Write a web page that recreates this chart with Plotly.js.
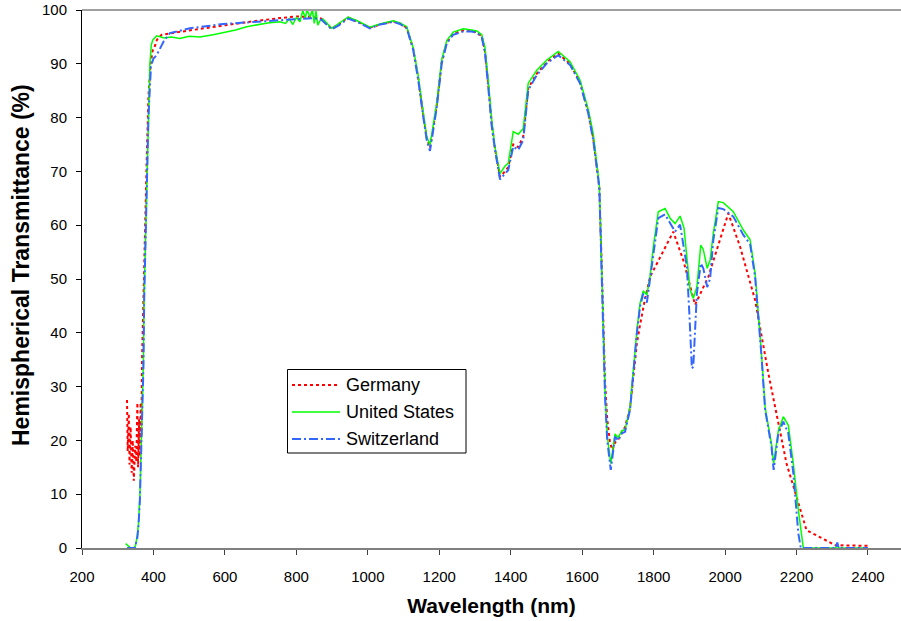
<!DOCTYPE html>
<html>
<head>
<meta charset="utf-8">
<script src="https://cdn.plot.ly/plotly-3.0.1.min.js"></script>
<style>html,body{margin:0;padding:0;background:#fff;}#chart{width:901px;height:621px;}</style>
</head>
<body>
<div id="chart"></div>
<script>
// ---- Data ----
const seriesNames = ["Germany", "United States", "Switzerland"];
const xTickVals = [200, 400, 600, 800, 1000, 1200, 1400, 1600, 1800, 2000, 2200, 2400];
const yTickVals = [0, 10, 20, 30, 40, 50, 60, 70, 80, 90, 100];

const germanyWl = [326,328,331,333,336,339,342,345,349,352,355,357,360,362,364,366,368,372,376,381,386,392,398,404,410,423,500,600,679,754,800,847,870,899,920,945,970,1006,1034,1050,1071,1090,1109,1127,1141,1155,1165,1174,1183,1193,1207,1221,1239,1267,1290,1305,1319,1328,1337,1347,1356,1370,1384,1393,1407,1421,1435,1449,1473,1501,1533,1566,1594,1617,1631,1641,1648,1655,1659,1664,1670,1678,1685,1692,1701,1711,1720,1734,1743,1753,1762,1775,1790,1855,1883,1916,1953,2009,2042,2084,2121,2172,2200,2228,2312,2330,2400];
const germanyT  = [27.5,18,25,15.5,22.5,14,20,12.5,19,16,27,15,24,17,27,21,35,48,62,72,84,90,92.5,93.3,94.5,95.4,96.2,97.2,97.9,98.5,98.8,98.7,98.4,96.5,97.4,98.6,97.9,96.7,97.3,97.6,97.9,97.5,96.7,92.8,87.4,80.6,76.2,74.4,78,82.3,90.4,94.0,95.6,96.2,96.1,95.9,95.1,92.4,86.2,78.8,74.3,69.0,70.0,70.8,75.0,74.5,76.5,85.5,88.2,90.3,91.9,90.0,86.6,81,76.2,71.3,67,52,40,31,24,19.5,18.2,19.6,20.2,21.5,22.5,26,32,38,41.5,46,50.4,58.8,53.5,45.2,50.4,62.2,56,46.1,32.5,15.7,9.5,3.3,0.4,0.5,0.4];

const usWl = [322,328,335,345,350,355,358,362,367,372,374,381,386,390,394,398,409,430,450,474,500,530,567,600,630,661,690,720,754,770,780,790,800,810,818,825,830,838,845,850,855,860,866,875,899,920,945,970,1006,1034,1050,1071,1090,1109,1127,1141,1155,1165,1174,1183,1193,1207,1221,1239,1267,1290,1305,1319,1328,1337,1347,1356,1370,1384,1393,1407,1421,1435,1449,1473,1501,1533,1566,1594,1617,1631,1641,1648,1655,1659,1664,1670,1680,1692,1701,1711,1720,1734,1743,1753,1762,1771,1781,1790,1799,1813,1832,1846,1860,1874,1885,1893,1902,1911,1921,1932,1939,1950,1958,1967,1981,1995,2023,2051,2070,2084,2093,2102,2112,2121,2130,2136,2149,2163,2177,2191,2205,2219,2240,2310,2314,2318,2400];
const usT  = [0.8,0.4,0.1,0,0.5,2.5,4.5,9.5,22,35,47,66,82,90,93.5,94.4,95.2,94.8,95.0,94.7,95.1,95.0,95.4,95.8,96.3,96.9,97.2,97.6,97.8,97.5,98.4,97.3,98.6,97.8,99.9,98.5,100,98.7,100,97.5,99.8,97.2,98.0,98.3,96.6,97.6,98.7,98.0,96.8,97.4,97.7,98.0,97.6,96.9,93.0,87.8,81,76.5,74.9,78.5,82.8,90.8,94.3,95.9,96.5,96.3,96.1,95.4,93,87,79.5,74.5,69.6,71.0,71.5,77.4,76.9,78.0,86.4,88.8,90.7,92.3,90.4,87.0,81.5,77,72,67.5,51,38.5,29,21,15.7,21.2,20.5,21.8,22,26.2,33,40.3,45.5,47.8,47,50.5,56,62.5,63.1,61.3,60.3,61.7,59.5,53.5,48.0,46.4,48.5,56.3,55.5,52.0,53.5,58.5,64.4,64.2,62.5,59.1,57.3,51.1,44,36,26.2,23,19.3,15.7,21.8,24.4,22.8,15.7,7.1,0,0,0,0.8,0,0];

const swissWl = [326,348,355,358,362,367,372,374,381,386,393,400,409,428,446,502,595,700,754,800,847,870,899,920,945,970,1006,1034,1050,1071,1090,1109,1127,1141,1155,1165,1174,1183,1193,1207,1221,1239,1267,1290,1305,1319,1328,1337,1347,1356,1370,1384,1393,1407,1421,1435,1449,1473,1501,1533,1566,1594,1617,1631,1641,1648,1655,1659,1664,1670,1680,1692,1701,1711,1720,1734,1743,1753,1762,1771,1781,1790,1799,1813,1832,1846,1860,1874,1885,1893,1900,1907,1911,1916,1921,1932,1939,1950,1958,1967,1981,1995,2023,2051,2070,2084,2093,2102,2112,2121,2130,2136,2149,2163,2177,2191,2205,2212,2230,2300,2310,2314,2318,2400];
const swissT  = [0,0,2,4,8.9,21,33.7,46,64.7,80.2,89.5,91,91.6,94.1,95.7,96.6,97.4,97.8,98.0,98.3,98.5,98.2,96.4,97.2,98.4,97.8,96.6,97.3,97.5,97.8,97.4,96.6,92.6,87,80.2,75.8,73.8,77.7,81.9,90.1,93.8,95.4,96.0,96.0,95.8,94.9,92,85.7,78.3,74,68.5,69.6,70.2,74.6,74.0,75.8,85.1,87.9,90.1,91.6,89.8,86.4,80.8,75.8,70.9,67,49.8,37.4,28.1,20.1,14.5,20.7,20.0,21.3,21.6,25.7,32.5,39.9,44.9,47.3,45.6,49.8,54.8,61.3,62.0,60.4,58.8,60.1,56.0,52.3,43.6,33.4,33.7,40.5,47.3,52.9,52.0,48.5,50,57.2,63.2,63.0,61.6,58.2,56.5,50.4,43.6,35.6,25.7,22.6,18.8,14.5,21.3,23.5,21.3,13.9,2.7,0,0,0,0,1,0,0];

// ---- Styling ----
const FONT = "Arial, 'Liberation Sans', sans-serif";
const colors = ["#FF0000", "#00FF00", "#3366FF"];
const dashes = ["dot", "solid", "9px,3px,2px,3px"];
const widths = [2, 1.5, 2];

const traces = [
  {x: germanyWl, y: germanyT},
  {x: usWl, y: usT},
  {x: swissWl, y: swissT}
].map((d, i) => ({
  type: "scatter", mode: "lines", x: d.x, y: d.y, name: seriesNames[i],
  line: {color: colors[i], width: widths[i], dash: dashes[i]},
  showlegend: false, hoverinfo: "x+y+name"
}));

// pixel -> paper helpers (plot area: x 82..901, y 10..548)
const L = 82, T = 10, W = 819, H = 538;
const px = v => (v - L) / W;
const py = v => (T + H - v) / H;

const shapes = [
  {type: "line", xref: "paper", yref: "paper", x0: 0, x1: 1, y0: 1, y1: 1, line: {color: "#A0A0A0", width: 2}},
  {type: "rect", xref: "paper", yref: "paper", x0: px(287.5), x1: px(466), y0: py(453), y1: py(369.5),
   line: {color: "#000000", width: 1}, fillcolor: "#FFFFFF", layer: "above"}
];
const annotations = [];
const legendRows = [385, 412, 439];
seriesNames.forEach((n, i) => {
  shapes.push({type: "line", xref: "paper", yref: "paper", x0: px(292), x1: px(340), y0: py(legendRows[i]), y1: py(legendRows[i]),
    line: {color: colors[i], width: widths[i], dash: dashes[i]}, layer: "above"});
  annotations.push({xref: "paper", yref: "paper", x: px(344), y: py(legendRows[i]), xanchor: "left", yanchor: "middle",
    text: n, showarrow: false, font: {family: FONT, size: 18, color: "#000"}});
});
// y-axis title placed to match the reference (centre ~ y 265, x ~ 21)
annotations.push({xref: "paper", yref: "paper", x: px(21), y: py(265), xanchor: "center", yanchor: "middle",
  textangle: -90, text: "<b>Hemispherical Transmittance (%)</b>", showarrow: false,
  font: {family: FONT, size: 23, color: "#000"}});

const layout = {
  width: 901, height: 621,
  margin: {l: L, r: 0, t: T, b: 621 - T - H, pad: 0},
  paper_bgcolor: "#FFFFFF", plot_bgcolor: "#FFFFFF",
  font: {family: FONT, color: "#000"},
  xaxis: {
    range: [200, 200 + W / 0.35727], tickvals: xTickVals, ticktext: xTickVals.map(String),
    showgrid: false, zeroline: false, showline: true, linecolor: "#808080", linewidth: 2,
    ticks: "outside", ticklen: 5, tickcolor: "#404040", tickwidth: 1,
    ticklabelstandoff: 9,
    tickfont: {family: FONT, size: 15, color: "#000"},
    title: {text: "<b>Wavelength (nm)</b>", font: {family: FONT, size: 21, color: "#000"}, standoff: 14}
  },
  yaxis: {
    range: [0, 100], tickvals: yTickVals, ticktext: yTickVals.map(String),
    showgrid: false, zeroline: false, showline: true, linecolor: "#000000", linewidth: 1,
    ticks: "outside", ticklen: 5, tickcolor: "#000", tickwidth: 1,
    ticklabelstandoff: 6,
    tickfont: {family: FONT, size: 15, color: "#000"}
  },
  shapes: shapes,
  annotations: annotations,
  showlegend: false
};

Plotly.newPlot("chart", traces, layout, {staticPlot: true, displayModeBar: false});
</script>
</body>
</html>
